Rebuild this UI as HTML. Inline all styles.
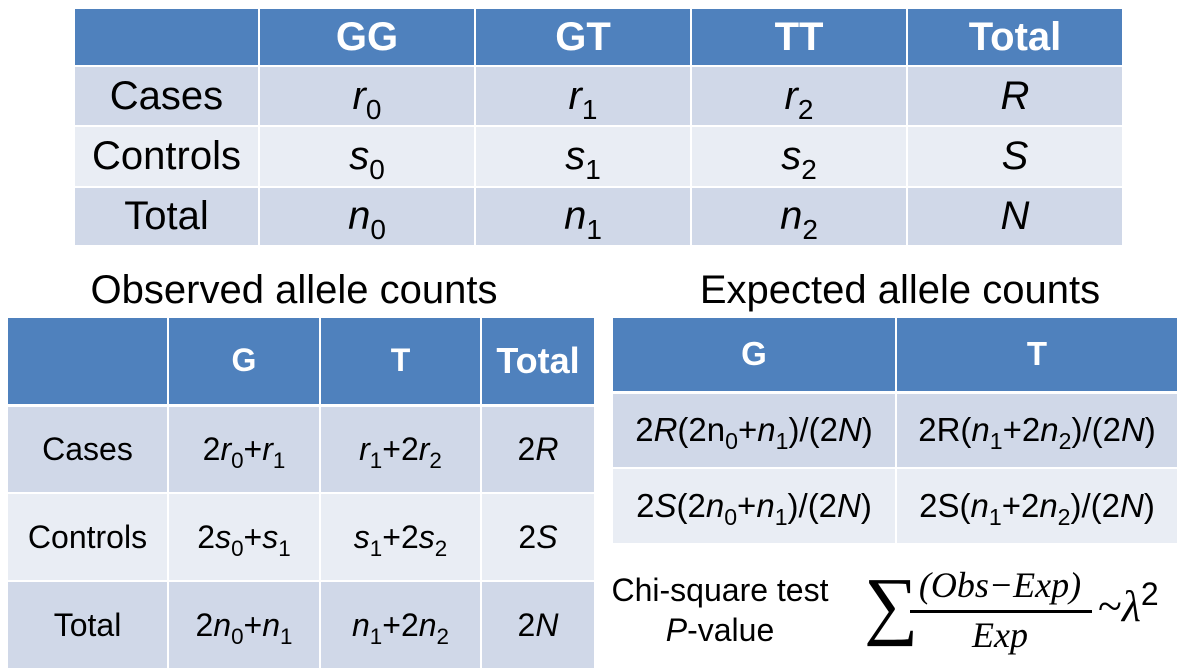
<!DOCTYPE html>
<html><head><meta charset="utf-8">
<style>
body{margin:0;width:1183px;height:668px;background:#fff;position:relative;overflow:hidden;font-family:"Liberation Sans",Arial,sans-serif;color:#000}
table{position:absolute;border-collapse:collapse;table-layout:fixed}
td{text-align:center;padding:0;border:2px solid #fff;white-space:nowrap}
.h td{background:#4F81BD;color:#fff;font-weight:bold}
.d td{background:#D0D8E8}
.l td{background:#E9EDF4}
i{font-style:italic}
sub{font-size:70%;vertical-align:-0.35em;line-height:0}
#t1 td{font-size:40px}
#t2 td{font-size:32px}
#t2 .h td{font-size:32px}
#t2 .h td.big{font-size:36px}
#t3 td{font-size:33px}
#t1{left:73px;top:7px}
#t2{left:6px;top:316px}
#t3{left:611px;top:316px}
.title{position:absolute;font-size:40px;text-align:center}
.serif{font-family:"Liberation Serif","DejaVu Serif",serif;font-style:italic}
</style></head><body>
<table id="t1">
<colgroup><col style="width:185px"><col style="width:216px"><col style="width:216px"><col style="width:216px"><col style="width:216px"></colgroup>
<tr class="h" style="height:58px"><td></td><td>GG</td><td>GT</td><td>TT</td><td>Total</td></tr>
<tr class="d" style="height:60px"><td>Cases</td><td><i>r</i><sub>0</sub></td><td><i>r</i><sub>1</sub></td><td><i>r</i><sub>2</sub></td><td><i>R</i></td></tr>
<tr class="l" style="height:61px"><td>Controls</td><td><i>s</i><sub>0</sub></td><td><i>s</i><sub>1</sub></td><td><i>s</i><sub>2</sub></td><td><i>S</i></td></tr>
<tr class="d" style="height:59px"><td>Total</td><td><i>n</i><sub>0</sub></td><td><i>n</i><sub>1</sub></td><td><i>n</i><sub>2</sub></td><td><i>N</i></td></tr>
</table>

<div class="title" style="left:-6px;width:600px;top:268px">Observed allele counts</div>
<div class="title" style="left:600px;width:600px;top:268px">Expected allele counts</div>

<table id="t2">
<colgroup><col style="width:161px"><col style="width:152px"><col style="width:161px"><col style="width:114px"></colgroup>
<tr class="h" style="height:88px;border-bottom:3px solid #fff"><td></td><td>G</td><td>T</td><td class="big">Total</td></tr>
<tr class="d" style="height:88px"><td>Cases</td><td>2<i>r</i><sub>0</sub>+<i>r</i><sub>1</sub></td><td><i>r</i><sub>1</sub>+2<i>r</i><sub>2</sub></td><td>2<i>R</i></td></tr>
<tr class="l" style="height:88px"><td>Controls</td><td>2<i>s</i><sub>0</sub>+<i>s</i><sub>1</sub></td><td><i>s</i><sub>1</sub>+2<i>s</i><sub>2</sub></td><td>2<i>S</i></td></tr>
<tr class="d" style="height:88px"><td>Total</td><td>2<i>n</i><sub>0</sub>+<i>n</i><sub>1</sub></td><td><i>n</i><sub>1</sub>+2<i>n</i><sub>2</sub></td><td>2<i>N</i></td></tr>
</table>

<table id="t3">
<colgroup><col style="width:284px"><col style="width:282px"></colgroup>
<tr class="h" style="height:75px;border-bottom:3px solid #fff"><td>G</td><td>T</td></tr>
<tr class="d" style="height:76px"><td>2<i>R</i>(2n<sub>0</sub>+<i>n</i><sub>1</sub>)/(2<i>N</i>)</td><td>2R(<i>n</i><sub>1</sub>+2<i>n</i><sub>2</sub>)/(2<i>N</i>)</td></tr>
<tr class="l" style="height:76px"><td>2<i>S</i>(2<i>n</i><sub>0</sub>+<i>n</i><sub>1</sub>)/(2<i>N</i>)</td><td>2S(<i>n</i><sub>1</sub>+2<i>n</i><sub>2</sub>)/(2<i>N</i>)</td></tr>
</table>

<div style="position:absolute;left:590px;top:570px;width:260px;text-align:center;font-size:32px;line-height:40px">Chi-square test<br><i>P</i>-value</div>

<div style="position:absolute;left:860px;top:560px;width:323px;height:100px">
<div class="serif" style="position:absolute;left:4px;top:0px;font-size:76px;font-style:normal;line-height:90px">∑</div>
<div class="serif" style="position:absolute;left:48px;top:4px;width:184px;text-align:center;font-size:36px">(<span>Obs</span>−<span>Exp</span>)</div>
<div style="position:absolute;left:50px;top:50px;width:182px;height:3px;background:#000"></div>
<div class="serif" style="position:absolute;left:48px;top:54px;width:184px;text-align:center;font-size:36px">Exp</div>
<div class="serif" style="position:absolute;left:238px;top:16px;font-size:44px;font-style:normal">~<i>λ</i><span style="font-family:'Liberation Sans',sans-serif;font-style:normal;font-size:32px;vertical-align:16px">2</span></div>
</div>
</body></html>
